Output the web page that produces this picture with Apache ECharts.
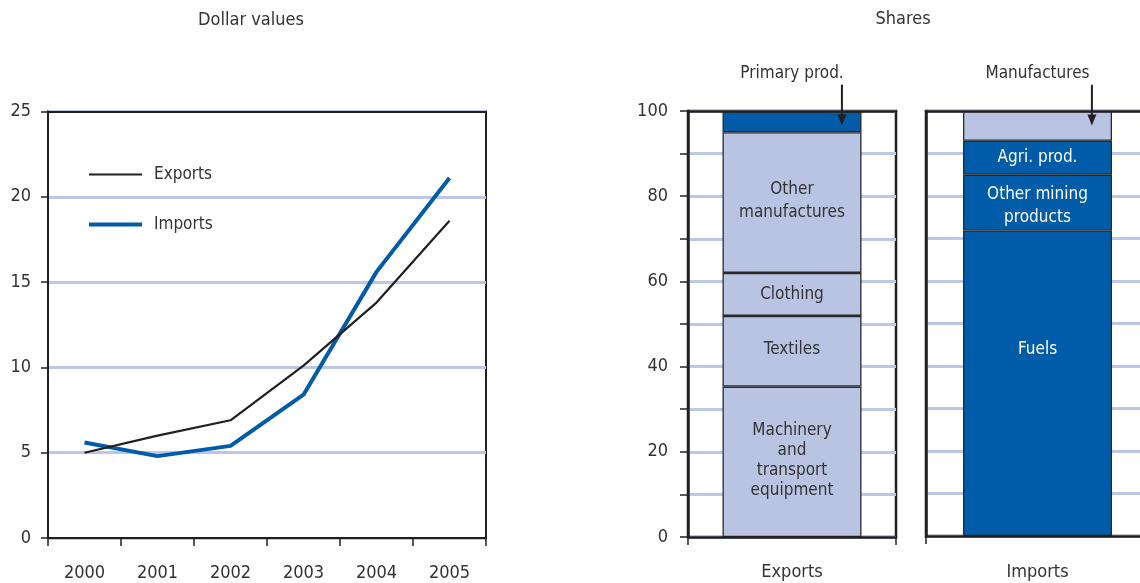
<!DOCTYPE html>
<html>
<head>
<meta charset="utf-8">
<script src="https://cdn.jsdelivr.net/npm/echarts@6/dist/echarts.min.js"></script>
<style>
html,body{margin:0;padding:0;background:#fff;overflow:hidden;width:1140px;height:583px;}
#chart{width:1160px;height:583px;}
</style>
</head>
<body>
<div id="chart"></div>
<script>
// ---- data ----
const years = ['2000', '2001', '2002', '2003', '2004', '2005'];
const exportsValues = [5.0, 6.0, 6.9, 10.1, 13.8, 18.6];
const importsValues = [5.6, 4.8, 5.4, 8.4, 15.6, 21.1];

const exportSegments = ['Machinery\nand\ntransport\nequipment', 'Textiles', 'Clothing', 'Other\nmanufactures', 'Primary prod.'];
const exportShares = [35.3, 16.6, 10.1, 33.0, 5.0];
const importSegments = ['Fuels', 'Other mining\nproducts', 'Agri. prod.', 'Manufactures'];
const importShares = [71.9, 13.1, 8.0, 7.0];

const leftTicks = [0, 5, 10, 15, 20, 25];
const rightTickLabels = [0, 20, 40, 60, 80, 100];

// ---- styles ----
const FONT = '"DejaVu Sans Condensed", "Liberation Sans Narrow", sans-serif';
const TXT = '#333333';
const INK = '#231f20';
const LIGHT = '#b8c4e2';
const DARK = '#005ca9';
const GRIDC = '#bcc7e5';
const FS = 18;
const FS_IN = 17;

const chart = echarts.init(document.getElementById('chart'), null, {renderer: 'canvas'});

function barSeries(names, values, colors, xi, yi, width, stackName, topIndex, labelOffsets, lineHeights) {
  return names.map((n, i) => {
    const isTop = i === topIndex;
    return {
      name: n,
      type: 'bar',
      xAxisIndex: xi,
      yAxisIndex: yi,
      stack: stackName,
      barWidth: width,
      data: [values[i]],
      itemStyle: {color: colors[i], borderColor: '#2a2a2a', borderWidth: 1.3},
      label: isTop ? {
        show: true, position: 'top', distance: 29,
        formatter: n, color: TXT, fontFamily: FONT, fontSize: FS_IN
      } : {
        show: true, position: 'inside',
        offset: labelOffsets[i] || [0, 0],
        formatter: n, lineHeight: lineHeights[i] || 22,
        color: colors[i] === DARK ? '#ffffff' : TXT,
        fontFamily: FONT, fontSize: FS_IN
      },
      emphasis: {disabled: true},
      z: 2
    };
  });
}

const exportColors = [LIGHT, LIGHT, LIGHT, LIGHT, DARK];
const importColors = [DARK, DARK, DARK, LIGHT];

const arrowSeries = (xi, yi, xv) => ({
  type: 'line',
  xAxisIndex: xi,
  yAxisIndex: yi,
  clip: false,
  silent: true,
  data: [
    {value: [xv, 106.2], symbol: 'none'},
    {value: [xv, 97.9], symbol: 'triangle', symbolSize: [9, 11], symbolRotate: 180}
  ],
  lineStyle: {color: INK, width: 2},
  itemStyle: {color: INK},
  z: 10
});

const option = {
  animation: false,
  backgroundColor: '#ffffff',
  textStyle: {fontFamily: FONT},
  title: [
    {text: 'Dollar values', left: 251, top: 11, textAlign: 'center', padding: 0,
     textStyle: {fontFamily: FONT, fontSize: FS, fontWeight: 'normal', color: TXT}},
    {text: 'Shares', left: 903, top: 10, textAlign: 'center', padding: 0,
     textStyle: {fontFamily: FONT, fontSize: FS, fontWeight: 'normal', color: TXT}}
  ],
  legend: {
    data: [
      {name: 'Exports', lineStyle: {width: 2.2}},
      {name: 'Imports', lineStyle: {width: 4}}
    ],
    orient: 'vertical',
    left: 87, top: 166, padding: 0,
    itemWidth: 53, itemHeight: 20, itemGap: 33,
    itemStyle: {opacity: 0},
    textStyle: {fontFamily: FONT, fontSize: FS_IN, color: TXT, padding: [0, 0, 0, 7]},
    selectedMode: false
  },
  grid: [
    {left: 48, top: 111.5, width: 438, height: 426.5, show: true, borderColor: INK, borderWidth: 2, containLabel: false},
    {left: 688, top: 111, width: 208, height: 426, show: true, borderColor: INK, borderWidth: 2.5, containLabel: false},
    {left: 926, top: 111, width: 223, height: 425, show: true, borderColor: INK, borderWidth: 2.5, containLabel: false}
  ],
  xAxis: [
    {gridIndex: 0, type: 'category', data: years, boundaryGap: true, z: 10,
     axisLine: {show: true, lineStyle: {color: INK, width: 2}},
     axisTick: {show: true, length: 8, alignWithLabel: false, lineStyle: {color: INK, width: 1.5}},
     axisLabel: {margin: 26, fontFamily: FONT, fontSize: FS, color: TXT}},
    {gridIndex: 1, type: 'category', data: ['Exports'], boundaryGap: true, z: 10,
     axisLine: {show: true, lineStyle: {color: INK, width: 2.5}},
     axisTick: {show: true, length: 8, lineStyle: {color: INK, width: 1.5}},
     axisLabel: {margin: 26, fontFamily: FONT, fontSize: FS, color: TXT}},
    {gridIndex: 2, type: 'category', data: ['Imports'], boundaryGap: true, z: 10,
     axisLine: {show: true, lineStyle: {color: INK, width: 2.5}},
     axisTick: {show: true, length: 8, lineStyle: {color: INK, width: 1.5}},
     axisLabel: {margin: 27, fontFamily: FONT, fontSize: FS, color: TXT}},
    // top border lines drawn above gridlines
    {gridIndex: 0, type: 'category', data: years, position: 'top', z: 10,
     axisLine: {show: true, lineStyle: {color: INK, width: 2}}, axisTick: {show: false}, axisLabel: {show: false}},
    {gridIndex: 1, type: 'value', min: 0, max: 1, position: 'top', z: 10,
     axisLine: {show: true, lineStyle: {color: INK, width: 2.5}}, axisTick: {show: false}, axisLabel: {show: false}, splitLine: {show: false}},
    {gridIndex: 2, type: 'value', min: 0, max: 1, position: 'top', z: 10,
     axisLine: {show: true, lineStyle: {color: INK, width: 2.5}}, axisTick: {show: false}, axisLabel: {show: false}, splitLine: {show: false}}
  ],
  yAxis: [
    {gridIndex: 0, type: 'value', min: leftTicks[0], max: leftTicks[leftTicks.length - 1], interval: 5, z: 1,
     axisLine: {show: true, lineStyle: {color: INK, width: 2}},
     axisTick: {show: true, length: 7, lineStyle: {color: INK, width: 1.5}},
     axisLabel: {margin: 17, fontFamily: FONT, fontSize: FS, color: TXT},
     splitLine: {show: true, lineStyle: {color: GRIDC, width: 3}}},
    {gridIndex: 1, type: 'value', min: 0, max: 100, interval: 10, z: 1,
     axisLine: {show: true, lineStyle: {color: INK, width: 2.5}},
     axisTick: {show: true, length: 8, lineStyle: {color: INK, width: 1.5}},
     axisLabel: {margin: 20, fontFamily: FONT, fontSize: FS, color: TXT,
       formatter: v => rightTickLabels.indexOf(v) >= 0 ? String(v) : ''},
     splitLine: {show: true, lineStyle: {color: GRIDC, width: 3}}},
    {gridIndex: 2, type: 'value', min: 0, max: 100, interval: 10, z: 1,
     axisLine: {show: true, lineStyle: {color: INK, width: 2.5}},
     axisTick: {show: false}, axisLabel: {show: false},
     splitLine: {show: true, lineStyle: {color: GRIDC, width: 3}}}
  ],
  series: [
    {name: 'Exports', type: 'line', xAxisIndex: 0, yAxisIndex: 0, data: exportsValues,
     symbol: 'none', showSymbol: false, lineStyle: {color: INK, width: 2.2}, itemStyle: {color: INK}, z: 4},
    {name: 'Imports', type: 'line', xAxisIndex: 0, yAxisIndex: 0, data: importsValues,
     symbol: 'none', showSymbol: false, lineStyle: {color: DARK, width: 4}, itemStyle: {color: DARK}, z: 3},
    ...barSeries(exportSegments, exportShares, exportColors, 1, 1, 139, 'exp', 4,
      [[0, -1], [0, -2], [0, 0], [0, -2], [0, 0]], [20, 22, 22, 23, 22]),
    ...barSeries(importSegments, importShares, importColors, 2, 2, 149, 'imp', 3,
      [[0, -34], [0, 3], [0, 0], [0, 0]], [22, 23, 22, 22]),
    arrowSeries(4, 1, 0.74),
    arrowSeries(5, 2, 0.744)
  ]
};

chart.setOption(option);
</script>
</body>
</html>
